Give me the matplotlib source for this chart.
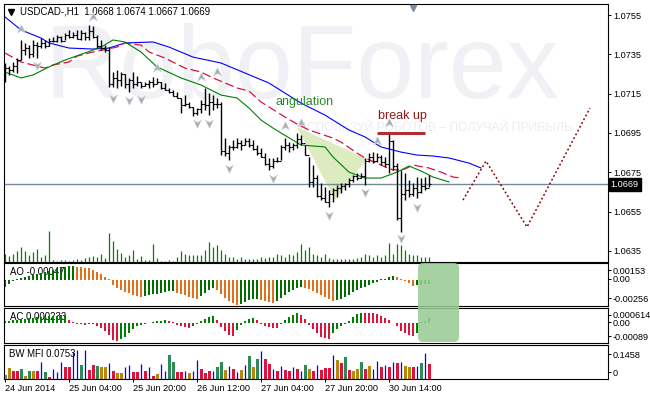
import numpy as np
import matplotlib
matplotlib.use('Agg')
import matplotlib.pyplot as plt
from matplotlib.path import Path
from matplotlib.patches import FancyBboxPatch, Polygon
from matplotlib.transforms import IdentityTransform

plt.rcParams['font.family'] = ['Liberation Sans', 'DejaVu Sans']

symbol_line = 'USDCAD-,H1  1.0668 1.0674 1.0667 1.0669'
last_price = 1.0669
first_open = 1.0729

# H1 bars, 24 Jun 12:00 .. 30 Jun 14:00
highs = [1.07306, 1.07291, 1.07311, 1.07331, 1.07423, 1.07408, 1.07397, 1.07423, 1.07413, 1.07433,
         1.07423, 1.07433, 1.07438, 1.07448, 1.07443, 1.07458, 1.07474, 1.07464, 1.07474, 1.07474,
         1.07464, 1.07499, 1.07494, 1.07448, 1.07423, 1.07397, 1.07387, 1.07260, 1.07270, 1.07260,
         1.07250, 1.07230, 1.07260, 1.07240, 1.07209, 1.07209, 1.07219, 1.07235, 1.07230, 1.07209,
         1.07204, 1.07179, 1.07169, 1.07158, 1.07128, 1.07143, 1.07108, 1.07082, 1.07077, 1.07118,
         1.07179, 1.07153, 1.07143, 1.07128, 1.07108, 1.06924, 1.06889, 1.06914, 1.06924, 1.06914,
         1.06924, 1.06924, 1.06914, 1.06889, 1.06874, 1.06848, 1.06823, 1.06823, 1.06828, 1.06889,
         1.06924, 1.06904, 1.06899, 1.06950, 1.06940, 1.06889, 1.06828, 1.06787, 1.06736, 1.06696,
         1.06675, 1.06660, 1.06670, 1.06685, 1.06696, 1.06696, 1.06721, 1.06736, 1.06746, 1.06746,
         1.06823, 1.06848, 1.06853, 1.06848, 1.06838, 1.06828, 1.06950, 1.06914, 1.06797, 1.06762,
         1.06746, 1.06711, 1.06696, 1.06726, 1.06721, 1.06726, 1.06736]
lows = [1.07209, 1.07245, 1.07260, 1.07255, 1.07321, 1.07347, 1.07331, 1.07336, 1.07331, 1.07382,
        1.07382, 1.07392, 1.07413, 1.07413, 1.07413, 1.07423, 1.07433, 1.07433, 1.07428, 1.07423,
        1.07423, 1.07423, 1.07433, 1.07382, 1.07372, 1.07362, 1.07184, 1.07184, 1.07179, 1.07189,
        1.07179, 1.07158, 1.07179, 1.07189, 1.07179, 1.07189, 1.07179, 1.07184, 1.07199, 1.07174,
        1.07169, 1.07153, 1.07138, 1.07128, 1.07052, 1.07087, 1.07077, 1.07036, 1.07041, 1.07052,
        1.07067, 1.07041, 1.07067, 1.07077, 1.06838, 1.06833, 1.06813, 1.06863, 1.06874, 1.06863,
        1.06889, 1.06879, 1.06863, 1.06838, 1.06828, 1.06787, 1.06762, 1.06772, 1.06802, 1.06813,
        1.06863, 1.06853, 1.06863, 1.06874, 1.06889, 1.06838, 1.06675, 1.06675, 1.06624, 1.06609,
        1.06599, 1.06573, 1.06599, 1.06624, 1.06645, 1.06660, 1.06675, 1.06701, 1.06711, 1.06721,
        1.06685, 1.06802, 1.06797, 1.06802, 1.06787, 1.06777, 1.06746, 1.06762, 1.06507, 1.06446,
        1.06609, 1.06624, 1.06629, 1.06619, 1.06645, 1.06660, 1.06675]
closes = [1.0728, 1.0727, 1.0729, 1.0732, 1.0737, 1.0738, 1.0735, 1.0740, 1.0739, 1.0741,
          1.0739, 1.0742, 1.0742, 1.0744, 1.0742, 1.0745, 1.0744, 1.0745, 1.0743, 1.0746,
          1.0744, 1.0747, 1.0744, 1.0739, 1.0738, 1.0737, 1.0720, 1.0723, 1.0722, 1.0725,
          1.0720, 1.0722, 1.0720, 1.0721, 1.0719, 1.0720, 1.0721, 1.0720, 1.0721, 1.0718,
          1.0717, 1.0716, 1.0714, 1.0713, 1.0709, 1.0710, 1.0708, 1.0705, 1.0707, 1.0710,
          1.0709, 1.0711, 1.0710, 1.0710, 1.0686, 1.0685, 1.0688, 1.0688, 1.0690, 1.0689,
          1.0691, 1.0689, 1.0687, 1.0685, 1.0683, 1.0679, 1.0678, 1.0681, 1.0681, 1.0688,
          1.0689, 1.0688, 1.0689, 1.0692, 1.0690, 1.0684, 1.0670, 1.0672, 1.0663, 1.0662,
          1.0660, 1.0664, 1.0666, 1.0667, 1.0668, 1.0669, 1.0671, 1.0673, 1.0672, 1.0673,
          1.0681, 1.0683, 1.0681, 1.0683, 1.0680, 1.0679, 1.0691, 1.0678, 1.0652, 1.0664,
          1.0666, 1.0664, 1.0667, 1.0665, 1.0668, 1.0667, 1.0669]
volumes = [320, 240, 320, 440, 600, 440, 280, 400, 520, 200, 280, 1240, 80, 40, 80, 80, 40, 80, 120, 80,
           160, 200, 240, 200, 320, 160, 1160, 840, 520, 360, 200, 280, 480, 120, 240, 80, 80, 720, 160, 40,
           40, 80, 40, 200, 440, 320, 280, 280, 280, 280, 480, 800, 600, 680, 480, 320, 200, 200, 120, 200,
           120, 120, 120, 120, 200, 160, 200, 200, 320, 280, 200, 320, 280, 400, 720, 480, 600, 320, 280, 200,
           320, 160, 120, 120, 120, 120, 120, 120, 160, 200, 320, 280, 200, 280, 200, 280, 760, 320, 720, 680,
           480, 320, 280, 280, 200, 200, 200]

# Alligator lines (bar index, price)
jaw_x = [0, 4, 9, 11, 16, 22, 26, 30, 37, 41, 47, 54, 60, 66, 70, 74, 80, 86, 90, 94, 99, 103, 107, 111, 116, 119]
jaw_y = [1.07540, 1.07474, 1.07433, 1.07408, 1.07382, 1.07377, 1.07382, 1.07408, 1.07413, 1.07387,
         1.07336, 1.07306, 1.07255, 1.07204, 1.07153, 1.07102, 1.07041, 1.06965, 1.06930, 1.06879,
         1.06853, 1.06838, 1.06833, 1.06823, 1.06797, 1.06772]
teeth_x = [0, 4, 10, 12, 16, 18, 22, 28, 30, 34, 36, 40, 45, 49, 52, 58, 61, 64, 70, 73, 76, 82, 84,
           88, 90, 94, 97, 100, 102, 106, 109, 112, 114]
teeth_y = [1.07357, 1.07311, 1.07280, 1.07296, 1.07311, 1.07341, 1.07362, 1.07387, 1.07408, 1.07397,
           1.07362, 1.07331, 1.07280, 1.07260, 1.07230, 1.07179, 1.07163, 1.07108, 1.07031, 1.06996,
           1.06965, 1.06924, 1.06904, 1.06848, 1.06823, 1.06787, 1.06762, 1.06767, 1.06787, 1.06772,
           1.06751, 1.06726, 1.06721]
lips_x = [0, 4, 7, 11, 15, 20, 24, 27, 30, 34, 38, 44, 49, 54, 58, 61, 64, 67, 69, 74, 80, 82, 86,
          90, 94, 98, 101, 104, 107, 111]
lips_y = [1.07260, 1.07230, 1.07245, 1.07286, 1.07321, 1.07357, 1.07387, 1.07423, 1.07413, 1.07362,
          1.07286, 1.07230, 1.07194, 1.07143, 1.07128, 1.07077, 1.07016, 1.06975, 1.06950, 1.06889,
          1.06879, 1.06828, 1.06751, 1.06721, 1.06721, 1.06751, 1.06782, 1.06757, 1.06726, 1.06701]

# fractals (bar index, price)
frac_up_x = [4, 22, 38, 49, 53, 70, 74, 93, 96]
frac_up_y = [1.07479, 1.07540, 1.07280, 1.07235, 1.07260, 1.06985, 1.07001, 1.06909, 1.07001]
frac_dn_x = [8, 27, 31, 34, 48, 51, 56, 67, 81, 90, 99, 103]
frac_dn_y = [1.07296, 1.07128, 1.07118, 1.07123, 1.07001, 1.07001, 1.06772, 1.06721, 1.06533,
             1.06650, 1.06416, 1.06573]

# annotations
angul_x = [73, 90.5, 82.5]
angul_y = [1.06980, 1.06818, 1.06609]
breakup_x = [93, 105]
breakup_y = 1.06950
forecast_x = [114.5, 120.25, 130.5, 146.25]
forecast_y = [1.06609, 1.06807, 1.06472, 1.07077]

# Awesome / Accelerator oscillators (x1e-4)
ao_vals = [-7, -4, -1, 1, 2, 3, 4, 5, 6, 7, 8, 9, 10, 11, 12, 13, 13.5, 14, 13, 12.5,
           12, 11.5, 10, 8, 6, 3, 0.5, -5, -8, -10, -12, -13, -15, -16, -17, -16, -15, -14.5, -14, -13,
           -12, -11.5, -11, -13, -14, -15, -17, -18, -19, -16, -13, -10, -8, -10, -14, -18, -21, -23, -25, -24,
           -22, -20, -19.5, -19, -20, -21, -22, -23, -21, -18, -15, -12, -10, -8, -7, -8, -9, -11, -13, -15,
           -17, -19, -21, -20, -19, -17, -15, -12, -10, -8, -7, -5, -3, -2, 0.5, 1, 3, 4, 3, 1,
           -1, -3, -6, -5.5, -5, -4.85, -4.7]
ac_vals = [1.0, 1.25, 1.5, 1.75, 2.0, 2.25, 2.5, 2.75, 3.0, 3.15, 3.3, 3.45, 3.6, 3.75, 3.9, 4.0, 1.5, 0.5, -0.25, -0.5,
           -0.75, -0.5, -0.25, -1.5, -2.5, -4.0, -6.0, -8.5, -9.0, -8.0, -7.0, -5.0, -3.0, -1.5, -1.0, -0.5, 0.25, 0.75, 1.0, 1.25,
           1.5, 1.0, 0.5, -1.0, -1.5, -2.0, -2.25, -1.5, -0.5, 1.0, 2.0, 3.0, 3.5, 1.5, -2.0, -4.0, -6.0, -6.5, -3.5, -1.0,
           1.0, 2.0, 2.5, 1.5, -0.5, -1.5, -2.0, -2.25, -2.5, -0.5, 1.5, 3.0, 4.0, 5.0, 4.0, 2.0, -1.0, -3.0, -5.0, -7.0,
           -7.5, -7.75, -5.0, -3.0, -1.5, -0.5, 1.0, 3.0, 4.5, 5.25, 5.1, 5.0, 4.9, 4.5, 3.5, 2.5, 1.5, 0.25, -1.5, -4.0,
           -5.0, -6.0, -6.5, -5.0, 0.75, 1.0, 2.33]

# BW Market Facilitation Index
mfi_vals = [0.020, 0.055, 0.040, 0.040, 0.050, 0.015, 0.040, 0.040, 0.040, 0.085,
            0.035, 0.010, 0.050, 0.035, 0.085, 0.060, 0.060, 0.135, 0.145, 0.070,
            0.145, 0.045, 0.070, 0.065, 0.060, 0.060, 0.080, 0.040, 0.030, 0.030,
            0.060, 0.070, 0.035, 0.035, 0.075, 0.040, 0.060, 0.015, 0.025, 0.075,
            0.040, 0.120, 0.085, 0.035, 0.035, 0.040, 0.030, 0.040, 0.095, 0.050,
            0.030, 0.040, 0.040, 0.060, 0.085, 0.045, 0.065, 0.050, 0.035, 0.045,
            0.070, 0.115, 0.060, 0.100, 0.140, 0.100, 0.075, 0.050, 0.040, 0.065,
            0.045, 0.040, 0.060, 0.050, 0.040, 0.070, 0.050, 0.040, 0.070, 0.045,
            0.055, 0.055, 0.120, 0.095, 0.080, 0.110, 0.045, 0.040, 0.050, 0.085,
            0.050, 0.065, 0.050, 0.090, 0.060, 0.070, 0.060, 0.085, 0.080, 0.085,
            0.065, 0.060, 0.060, 0.065, 0.080, 0.130, 0.0753]
mfi_kind = ('nFSSGFGFSB' 'GSBBBSSBBG' 'BSSGFFBSFF' 'BBSSBSBSFB' 'BGGSSBFBBS'
            'SSBGGFBSBF' 'BGFGBSSBSB' 'SSBSBGFSBS' 'SSBFSGSFFG' 'SFBBSBSBSB' 'FFSBGBS')

time_ticks = [0, 16, 32, 48, 64, 80, 96]
time_labels = ['24 Jun 2014', '25 Jun 04:00', '25 Jun 20:00', '26 Jun 12:00',
               '27 Jun 04:00', '27 Jun 20:00', '30 Jun 14:00']
price_ticks = [1.0755, 1.0735, 1.0715, 1.0695, 1.0675, 1.0655, 1.0635]

W, H = 650, 399
fig = plt.figure(figsize=(6.5, 3.99), dpi=100)


def px_axes(top, bottom, left=4, right=608):
    return fig.add_axes([left / W, 1 - bottom / H, (right - left) / W, (bottom - top) / H])


ax = px_axes(4, 262)
ax_ao = px_axes(263, 306)
ax_ac = px_axes(308, 343)
ax_mfi = px_axes(345, 379)

idx = np.arange(len(highs))
highs = np.array(highs)
lows = np.array(lows)
closes = np.array(closes)
opens = np.r_[first_open, closes[:-1]]

FS = 6.6
for a in (ax, ax_ao, ax_ac, ax_mfi):
    a.set_xlim(-0.25, 150.75)
    for s in a.spines.values():
        s.set_linewidth(0.8)
        s.set_color('black')
    a.yaxis.tick_right()
    a.tick_params(axis='y', length=2.2, width=0.7, pad=1.4, labelsize=FS, colors='black')
    a.tick_params(axis='x', bottom=False, labelbottom=False)

# ---- main price panel
ax.set_ylim(1.06294, 1.07606)
ax.set_yticks(price_ticks)
ax.set_yticklabels([f'{p:.4f}' for p in price_ticks])

ax.text(0.493, 0.74, 'RoboForex', transform=ax.transAxes, fontsize=75, color='#eff1f4',
        ha='center', va='center', zorder=0)
ax.text(0.714, 0.519, 'ИСПОЛЬЗУЙ РОБОТОВ – ПОЛУЧАЙ ПРИБЫЛЬ', transform=ax.transAxes,
        fontsize=8.7, color='#eaedf1', ha='center', va='center', zorder=0)

ax.add_patch(Polygon(list(zip(angul_x, angul_y)), closed=True, fc='#dcebc0', ec='none', zorder=0.8))

ax.vlines(idx, 0, np.array(volumes) / 10320.0, transform=ax.get_xaxis_transform(),
          color='#0a7a0a', lw=0.9, zorder=1)
ax.axhline(last_price, color='#778899', lw=1.0, zorder=1.5)

ax.plot(jaw_x, jaw_y, color='#0000ff', lw=0.8, zorder=2)
ax.plot(teeth_x, teeth_y, color='#dc143c', lw=0.9, dashes=(7, 3), zorder=2)
ax.plot(lips_x, lips_y, color='#008000', lw=0.8, zorder=2)

ax.vlines(idx, lows, highs, color='black', lw=1.0, zorder=3)
ax.hlines(opens, idx - 0.45, idx, color='black', lw=0.8, zorder=3)
ax.hlines(closes, idx, idx + 0.45, color='black', lw=0.8, zorder=3)

up_path = Path([(0, 1), (0.8, -0.7), (0, -0.2), (-0.8, -0.7), (0, 1)],
               [Path.MOVETO, Path.LINETO, Path.LINETO, Path.LINETO, Path.CLOSEPOLY])
dn_path = Path([(0, -1), (0.8, 0.7), (0, 0.2), (-0.8, 0.7), (0, -1)],
               [Path.MOVETO, Path.LINETO, Path.LINETO, Path.LINETO, Path.CLOSEPOLY])
ax.plot(frac_up_x, frac_up_y, ls='none', marker=up_path, ms=6.8, mfc='#a4abb2', mec='#cdd1d5', mew=0.5, zorder=4)
ax.plot(frac_dn_x, frac_dn_y, ls='none', marker=dn_path, ms=6.8, mfc='#a4abb2', mec='#cdd1d5', mew=0.5, zorder=4)

ax.text(75, 1.07108, 'angulation', color='#2a8a2a', fontsize=9, ha='center', va='center', zorder=5)
ax.text(99.25, 1.07036, 'break up', color='#8b1a1a', fontsize=9, ha='center', va='center', zorder=5)
ax.plot(breakup_x, [breakup_y, breakup_y], color='#b03030', lw=2.2, solid_capstyle='butt', zorder=5)
ax.plot(forecast_x, forecast_y, color='#8b0000', lw=1.1, ls=(0, (1.2, 1.6)), zorder=5)

ax.plot([0.0124], [0.969], transform=ax.transAxes, marker='v', ms=4.5, color='black', ls='none')
ax.text(0.0265, 0.969, symbol_line, transform=ax.transAxes, fontsize=6.9, ha='left', va='center')

ax.text(1.0045, last_price, f'{last_price:.4f}', transform=ax.get_yaxis_transform(),
        fontsize=FS, color='white', ha='left', va='center', zorder=6,
        bbox=dict(boxstyle='square,pad=0.22', fc='black', ec='black'))

# ---- AO
ao = np.array(ao_vals) * 1e-4
ao_col = ['#006e00' if i == 0 or ao[i] > ao[i - 1] else '#df701c' for i in range(len(ao))]
ax_ao.bar(idx, ao, width=0.72, color=ao_col, zorder=2)
ax_ao.set_ylim(-26.5e-4, 16.5e-4)
ax_ao.set_yticks([9.5e-4, 0.5e-4, -18.5e-4])
ax_ao.set_yticklabels(['0.00153', '0.00', '-0.00256'])
ax_ao.text(0.01, 0.79, f'AO {ao_vals[-1] * 1e-4:.5f}', transform=ax_ao.transAxes, fontsize=6.9,
           ha='left', va='center', zorder=1)

# ---- AC
ac = np.array(ac_vals) * 1e-4
ac_col = ['#008000' if i == 0 or ac[i] > ac[i - 1] else '#dc143c' for i in range(len(ac))]
ax_ac.bar(idx, ac, width=0.72, color=ac_col, zorder=2)
ax_ac.set_ylim(-10e-4, 7.5e-4)
ax_ac.set_yticks([4e-4, 0.5e-4, -6.5e-4])
ax_ac.set_yticklabels(['0.000614', '0.00', '-0.00089'])
ax_ac.text(0.01, 0.74, f'AC {ac_vals[-1] * 1e-4:.6f}', transform=ax_ac.transAxes, fontsize=6.9,
           ha='left', va='center', zorder=1)

# ---- BW MFI
mfi_colors = {'n': '#808080', 'G': '#2e8b57', 'S': '#dc143c', 'F': '#b8860b', 'B': '#0000ff'}
mfi = np.array(mfi_vals)
kinds = np.array(list(mfi_kind))
wide = kinds != 'B'
ax_mfi.bar(idx[wide], mfi[wide], width=0.75, color=[mfi_colors[k] for k in kinds[wide]], zorder=2)
ax_mfi.vlines(idx[~wide], 0, mfi[~wide], color='#0000ff', lw=0.9, zorder=2)
ax_mfi.set_ylim(0, 0.17)
ax_mfi.set_yticks([0.125, 0.035])
ax_mfi.set_yticklabels(['0.1458', '0'])
ax_mfi.text(0.009, 0.735, f'BW MFI {mfi_vals[-1]:.4f}', transform=ax_mfi.transAxes, fontsize=6.9,
            ha='left', va='center', zorder=1)

ax_mfi.tick_params(axis='x', bottom=True, labelbottom=True, length=2.5, width=0.7, pad=1.2,
                   labelsize=FS)
ax_mfi.set_xticks(time_ticks)
ax_mfi.set_xticklabels(time_labels)
for lbl in ax_mfi.get_xticklabels():
    lbl.set_ha('left')

# highlight box over last AO/AC bars
box = FancyBboxPatch((418, H - 342), 41, 79, boxstyle='round,pad=0,rounding_size=5',
                     transform=IdentityTransform(), fc='#99cc93', ec='none', alpha=0.88, zorder=10)
fig.add_artist(box)
# chart shift marker
fig.add_artist(plt.Line2D([413 / W], [1 - 8 / H], marker='v', ms=5, color='#7f8c99',
                          transform=fig.transFigure))

fig.savefig('out.png', dpi=100)
